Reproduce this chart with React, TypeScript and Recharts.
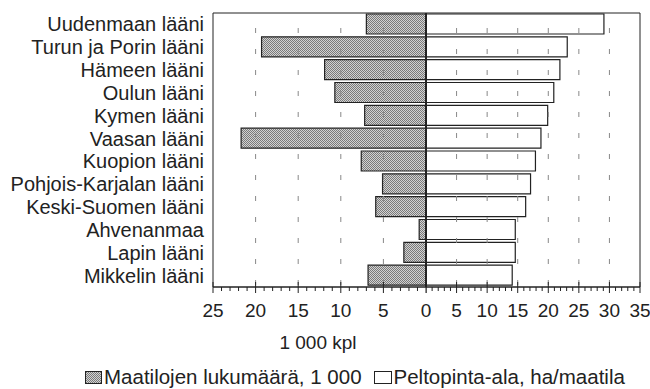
import { BarChart, Bar, XAxis, YAxis, ReferenceLine, ReferenceArea } from "recharts";

const regions = [
  "Uudenmaan lääni",
  "Turun ja Porin lääni",
  "Hämeen lääni",
  "Oulun lääni",
  "Kymen lääni",
  "Vaasan lääni",
  "Kuopion lääni",
  "Pohjois-Karjalan lääni",
  "Keski-Suomen lääni",
  "Ahvenanmaa",
  "Lapin lääni",
  "Mikkelin lääni",
];
// Maatilojen lukumäärä, 1 000
const farms = [7.0, 19.3, 11.9, 10.7, 7.2, 21.7, 7.6, 5.1, 5.9, 0.8, 2.6, 6.8];
// Peltopinta-ala, ha/maatila
const fieldArea = [29.1, 23.1, 21.9, 20.9, 19.9, 18.8, 17.9, 17.1, 16.3, 14.6, 14.6, 14.1];

const leftTicks = Array.from({ length: 26 }, (_, i) => i);
const rightTicks = Array.from({ length: 36 }, (_, i) => i);
const leftGrid = [5, 10, 15, 20];
const rightGrid = [5, 10, 15, 20, 25, 30];

const data = regions.map((name, i) => ({ name, farms: farms[i], area: fieldArea[i] }));

const FONT = "'Liberation Sans', Arial, Helvetica, sans-serif";
const INK = "#222";

const makeTick = (skipZero: boolean) => (props: any) => {
  const { x, y, payload } = props;
  const v = payload.value;
  const major = v % 5 === 0;
  return (
    <g>
      <line x1={x} x2={x} y1={major ? y - 5 : y} y2={major ? y + 6 : y + 4} stroke={INK} strokeWidth={1} />
      {major && !(skipZero && v === 0) && (
        <text x={x} y={y + 30} textAnchor="middle" fontSize={19} fill={INK} fontFamily={FONT}>
          {v}
        </text>
      )}
    </g>
  );
};

const CatTick = (props: any) => {
  const { x, y, payload } = props;
  return (
    <text x={x} y={y} dy={7} textAnchor="end" fontSize={20} fill={INK} fontFamily={FONT}>
      {payload.value}
    </text>
  );
};

function Stipple({ id }: { id: string }) {
  return (
    <defs>
      <pattern id={id} width="2" height="2" patternUnits="userSpaceOnUse">
        <rect width="2" height="2" fill="#d2d2d2" />
        <rect width="1" height="1" fill="#7a7a7a" />
        <rect x="1" y="1" width="1" height="1" fill="#7a7a7a" />
      </pattern>
    </defs>
  );
}

export default function App() {
  return (
    <div style={{ position: "relative", width: 650, height: 389, background: "#fff", overflow: "hidden", fontFamily: FONT }}>
      <style>{"body{margin:0}"}</style>
      <div style={{ position: "absolute", left: 0, top: 0 }}>
        <BarChart
          width={440}
          height={330}
          data={data}
          layout="vertical"
          margin={{ top: 13, right: 14, bottom: 0, left: 0 }}
          barSize={20}
        >
          <Stipple id="stipple" />
          <XAxis
            type="number"
            dataKey="farms"
            domain={[0, 25]}
            reversed
            ticks={leftTicks}
            interval={0}
            height={43}
            tickSize={0}
            tickMargin={0}
            axisLine={{ stroke: INK }}
            tick={makeTick(false)}
          />
          <YAxis
            type="category"
            dataKey="name"
            width={213}
            tickSize={0}
            tickMargin={9}
            axisLine={false}
            tick={<CatTick />}
            interval={0}
          />
          {leftGrid.map((g) => (
            <ReferenceLine key={g} x={g} stroke="#888" strokeDasharray="5 16" strokeDashoffset={-2} />
          ))}
          <Bar dataKey="farms" fill="url(#stipple)" stroke={INK} strokeWidth={1.2} isAnimationActive={false} />
          <ReferenceArea x1={0} x2={25} fill="none" stroke={INK} strokeWidth={1} ifOverflow="visible" />
          <ReferenceLine x={0} stroke={INK} strokeWidth={2} />
        </BarChart>
      </div>
      <div style={{ position: "absolute", left: 426, top: 0 }}>
        <BarChart
          width={224}
          height={330}
          data={data}
          layout="vertical"
          margin={{ top: 13, right: 10, bottom: 0, left: 0 }}
          barSize={20}
        >
          <XAxis
            type="number"
            dataKey="area"
            domain={[0, 35]}
            ticks={rightTicks}
            interval={0}
            height={43}
            tickSize={0}
            tickMargin={0}
            axisLine={{ stroke: INK }}
            tick={makeTick(true)}
          />
          <YAxis type="category" dataKey="name" width={0} hide />
          {rightGrid.map((g) => (
            <ReferenceLine key={g} x={g} stroke="#888" strokeDasharray="5 16" strokeDashoffset={-2} />
          ))}
          <Bar dataKey="area" fill="#fff" stroke={INK} strokeWidth={1.2} isAnimationActive={false} />
          <ReferenceArea x1={0} x2={35} fill="none" stroke={INK} strokeWidth={1} ifOverflow="visible" />
          <ReferenceLine x={0} stroke={INK} strokeWidth={2} />
        </BarChart>
      </div>
      <div style={{ position: "absolute", left: 258, top: 331, width: 120, textAlign: "center", fontSize: 19, color: INK, lineHeight: "24px" }}>
        1 000 kpl
      </div>
      <div
        style={{
          position: "absolute",
          left: 85,
          top: 365,
          display: "flex",
          alignItems: "center",
          fontSize: 20.5,
          color: INK,
          lineHeight: "24px",
          whiteSpace: "nowrap",
        }}
      >
        <svg width={17} height={13} style={{ marginRight: 2 }}>
          <Stipple id="stipple2" />
          <rect x={0.5} y={0.5} width={16} height={12} fill="url(#stipple2)" stroke={INK} />
        </svg>
        <span style={{ marginRight: 12 }}>Maatilojen lukumäärä, 1 000</span>
        <svg width={18} height={13} style={{ marginRight: 2 }}>
          <rect x={0.5} y={0.5} width={17} height={12} fill="#fff" stroke={INK} />
        </svg>
        <span>Peltopinta-ala, ha/maatila</span>
      </div>
    </div>
  );
}
